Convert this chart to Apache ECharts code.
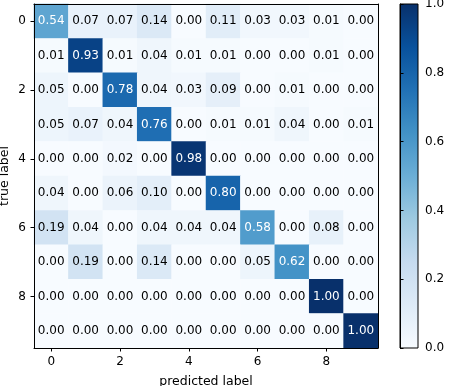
<!DOCTYPE html>
<html><head><meta charset="utf-8">
<script src="https://cdn.jsdelivr.net/npm/echarts@6/dist/echarts.min.js"></script>
<style>html,body{margin:0;padding:0;background:#fff}#c{width:449px;height:386px}</style>
</head><body><div id="c"></div>
<script>
const predictedLabels = ['0','1','2','3','4','5','6','7','8','9'];
const trueLabels = ['0','1','2','3','4','5','6','7','8','9'];
const row0 = [0.54,0.07,0.07,0.14,0.00,0.11,0.03,0.03,0.01,0.00];
const row1 = [0.01,0.93,0.01,0.04,0.01,0.01,0.00,0.00,0.01,0.00];
const row2 = [0.05,0.00,0.78,0.04,0.03,0.09,0.00,0.01,0.00,0.00];
const row3 = [0.05,0.07,0.04,0.76,0.00,0.01,0.01,0.04,0.00,0.01];
const row4 = [0.00,0.00,0.02,0.00,0.98,0.00,0.00,0.00,0.00,0.00];
const row5 = [0.04,0.00,0.06,0.10,0.00,0.80,0.00,0.00,0.00,0.00];
const row6 = [0.19,0.04,0.00,0.04,0.04,0.04,0.58,0.00,0.08,0.00];
const row7 = [0.00,0.19,0.00,0.14,0.00,0.00,0.05,0.62,0.00,0.00];
const row8 = [0.00,0.00,0.00,0.00,0.00,0.00,0.00,0.00,1.00,0.00];
const row9 = [0.00,0.00,0.00,0.00,0.00,0.00,0.00,0.00,0.00,1.00];
const matrix = [row0,row1,row2,row3,row4,row5,row6,row7,row8,row9];
const colorbarTicks = [0,0.2,0.4,0.6,0.8,1.0];

const blues = ['#f7fbff','#deebf7','#c6dbef','#9ecae1','#6baed6','#4292c6','#2171b5','#08519c','#08306b'];
const FONT = 'DejaVu Sans';
const data = [];
matrix.forEach((row, y) => row.forEach((v, x) => {
  data.push({value: [x, y, v], label: {color: v > 0.5 ? '#ffffff' : '#000000'}});
}));
const barGradient = new echarts.graphic.LinearGradient(0, 1, 0, 0,
  blues.map((c, i) => ({offset: i / (blues.length - 1), color: c})));

const chart = echarts.init(document.getElementById('c'), null, {renderer: 'canvas'});
chart.setOption({
  animation: false,
  backgroundColor: '#fff',
  textStyle: {fontFamily: FONT},
  grid: [
    {left: 34, top: 4, width: 344, height: 344, show: false, containLabel: false, outerBoundsMode: 'none'},
    {left: 400, top: 4, width: 18, height: 344, show: true, borderColor: '#000', borderWidth: 1,
     backgroundColor: barGradient, containLabel: false, outerBoundsMode: 'none'}
  ],
  graphic: [{
    type: 'text', x: 5, y: 176, rotation: Math.PI / 2, silent: true,
    style: {text: 'true label', fill: '#000', font: '12.5px "DejaVu Sans"',
      align: 'center', verticalAlign: 'middle'}
  }],
  xAxis: [
    {type: 'category', gridIndex: 0, data: predictedLabels, z: 5,
     axisLine: {show: true, lineStyle: {color: '#000', width: 1}},
     axisTick: {show: true, interval: 1, alignWithLabel: true, length: 3.5, lineStyle: {color: '#000'}},
     axisLabel: {interval: 1, color: '#000', fontSize: 12, fontFamily: FONT, margin: 8},
     splitLine: {show: false},
     name: 'predicted label', nameLocation: 'middle', nameGap: 27,
     nameTextStyle: {color: '#000', fontSize: 12.5, fontFamily: FONT}},
    {type: 'category', gridIndex: 0, data: predictedLabels, position: 'top', z: 5,
     axisLine: {show: true, onZero: false, lineStyle: {color: '#000', width: 1}},
     axisTick: {show: false}, axisLabel: {show: false}, splitLine: {show: false}},
    {type: 'value', gridIndex: 1, show: false, min: 0, max: 1}
  ],
  yAxis: [
    {type: 'category', gridIndex: 0, data: trueLabels, inverse: true, z: 5,
     axisLine: {show: true, lineStyle: {color: '#000', width: 1}},
     axisTick: {show: true, interval: 1, alignWithLabel: true, length: 3.5, lineStyle: {color: '#000'}},
     axisLabel: {interval: 1, color: '#000', fontSize: 12, fontFamily: FONT, margin: 8},
     splitLine: {show: false}},
    {type: 'category', gridIndex: 0, data: trueLabels, inverse: true, position: 'right', z: 5,
     axisLine: {show: true, onZero: false, lineStyle: {color: '#000', width: 1}},
     axisTick: {show: false}, axisLabel: {show: false}, splitLine: {show: false}},
    {type: 'value', gridIndex: 1, min: 0, max: 1, interval: 0.2, position: 'right', z: 6,
     axisLine: {show: true, lineStyle: {color: '#000', width: 1}},
     axisTick: {show: true, length: 3.5, lineStyle: {color: '#000'}},
     axisLabel: {color: '#000', fontSize: 12, fontFamily: FONT, margin: 7,
       formatter: v => colorbarTicks.some(t => Math.abs(t - v) < 1e-9) ? v.toFixed(1) : ''},
     splitLine: {show: false}}
  ],
  visualMap: {
    type: 'continuous', min: 0, max: 1, seriesIndex: 0, dimension: 2, show: false,
    inRange: {color: blues}
  },
  series: [{
    type: 'heatmap', xAxisIndex: 0, yAxisIndex: 0, data: data,
    label: {show: true, fontSize: 12, fontFamily: FONT,
      formatter: p => p.value[2].toFixed(2)},
    itemStyle: {borderWidth: 0},
    emphasis: {disabled: true}
  }]
});
</script></body></html>
